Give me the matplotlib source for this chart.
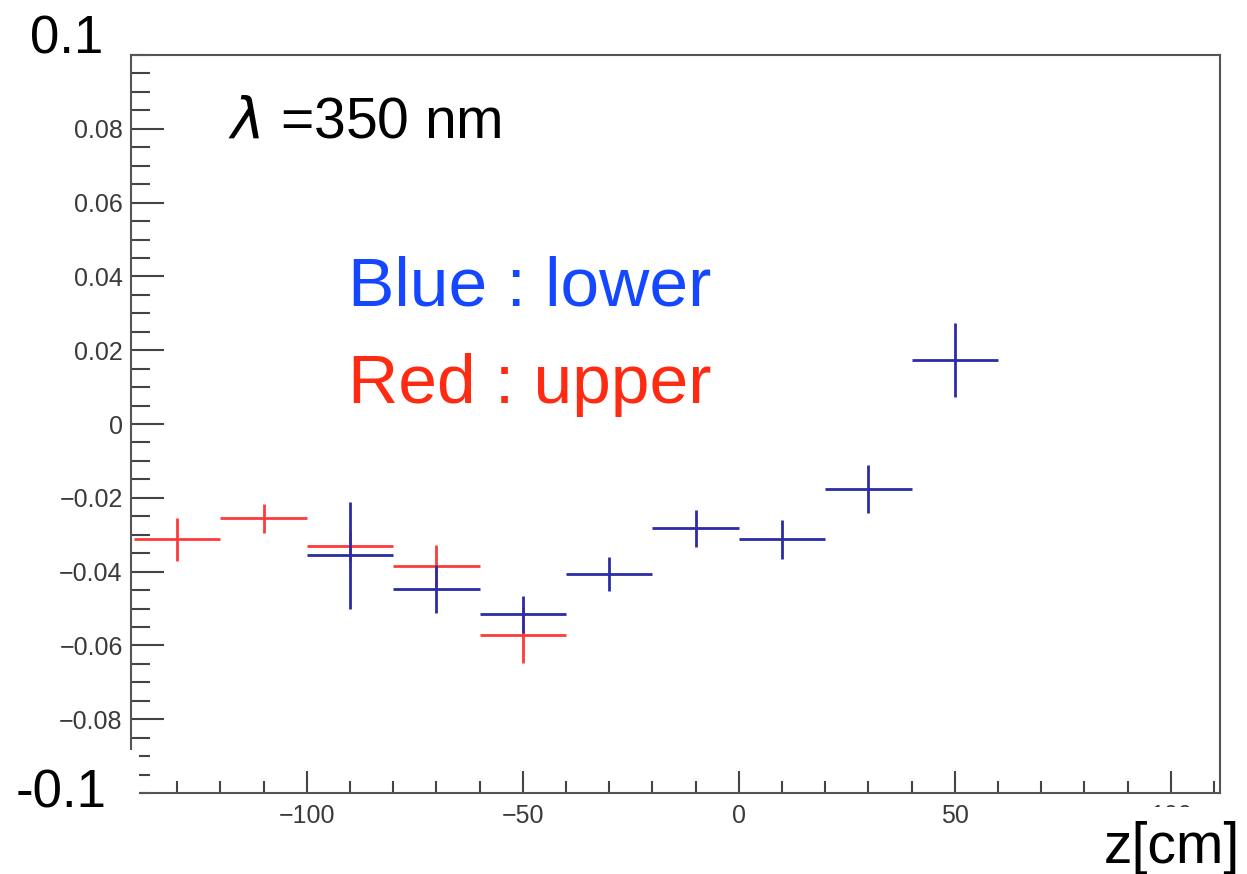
import numpy as np
import matplotlib.pyplot as plt
from matplotlib.patches import Rectangle
from matplotlib.ticker import MultipleLocator, FixedLocator

plt.rcParams['font.family'] = ['Liberation Sans', 'DejaVu Sans']
plt.rcParams['mathtext.fontset'] = 'dejavusans'

# bin centres [cm], values and errors
z_upper = [-130, -110, -90, -70, -50]
val_upper = [-0.0313, -0.0256, -0.0330, -0.0384, -0.0573]
err_upper = [0.0057, 0.0039, 0.0040, 0.0055, 0.0076]

z_lower = [-90, -70, -50, -30, -10, 10, 30, 50]
val_lower = [-0.0356, -0.0446, -0.0516, -0.0406, -0.0283, -0.0313, -0.0176, 0.0174]
err_lower = [0.0145, 0.0065, 0.0050, 0.0046, 0.0050, 0.0054, 0.0066, 0.0100]
bin_half = 10

yticks = [-0.08, -0.06, -0.04, -0.02, 0, 0.02, 0.04, 0.06, 0.08]
ytick_labels = ['\u22120.08', '\u22120.06', '\u22120.04', '\u22120.02', '0',
                '0.02', '0.04', '0.06', '0.08']
xticks = [-100, -50, 0, 50, 100]
xtick_labels = ['\u2212100', '\u221250', '0', '50', '100']

W, H = 1247, 874
fig = plt.figure(figsize=(W / 100, H / 100), dpi=100)
ax = fig.add_axes([131 / W, 1 - 793 / H, (1220 - 131) / W, (793 - 55) / H])

ax.errorbar(z_upper, val_upper, xerr=bin_half, yerr=err_upper, fmt='none',
            ecolor='#ff3a3a', elinewidth=2.0, capsize=0)
ax.errorbar(z_lower, val_lower, xerr=bin_half, yerr=err_lower, fmt='none',
            ecolor='#2c2ca6', elinewidth=2.0, capsize=0)

ax.set_xlim(-140.7, 111.4)
ax.set_ylim(-0.1, 0.1)

ax.yaxis.set_major_locator(FixedLocator(yticks))
ax.set_yticklabels(ytick_labels)
ax.yaxis.set_minor_locator(MultipleLocator(0.005))
ax.xaxis.set_major_locator(FixedLocator(xticks))
ax.set_xticklabels(xtick_labels)
ax.xaxis.set_minor_locator(MultipleLocator(10))

ax.tick_params(axis='y', which='major', direction='in', length=23.5, width=1.5,
               color='#444444', labelsize=18, labelcolor='#3a3a3a', pad=6)
ax.tick_params(axis='y', which='minor', direction='in', length=13.5, width=1.5,
               color='#444444')
ax.tick_params(axis='x', which='major', direction='in', length=15.5, width=1.5,
               color='#444444', labelsize=18, labelcolor='#3a3a3a', pad=8)
ax.tick_params(axis='x', which='minor', direction='in', length=8.5, width=1.5,
               color='#444444')
for s in ax.spines.values():
    s.set_linewidth(1.5)
    s.set_color('#555555')


def px(x, y):
    return x / W, 1 - y / H


# white patches over the axis corners
fig.patches.append(Rectangle(px(0, 874), 139 / W, (874 - 750) / H,
                             transform=fig.transFigure, facecolor='white',
                             edgecolor='none', zorder=5))
fig.patches.append(Rectangle(px(1080, 874), (W - 1080) / W, (874 - 807) / H,
                             transform=fig.transFigure, facecolor='white',
                             edgecolor='none', zorder=5))

fig.text(*px(30, 53), '0.1', fontsize=38, va='baseline', ha='left', zorder=6)
fig.text(*px(16, 808), '-0.1', fontsize=38, va='baseline', ha='left', zorder=6)
fig.text(*px(1104, 863), 'z[cm]', fontsize=41, va='baseline', ha='left', zorder=6)

fig.text(*px(228, 137), r'$\lambda$ =350 nm', fontsize=41, va='baseline', ha='left')
fig.text(*px(348, 306), 'Blue : lower', fontsize=50, color='#1447ff',
         va='baseline', ha='left')
fig.text(*px(348, 403), 'Red : upper', fontsize=50, color='#ff2a12',
         va='baseline', ha='left')

fig.savefig('out.png', dpi=100)
